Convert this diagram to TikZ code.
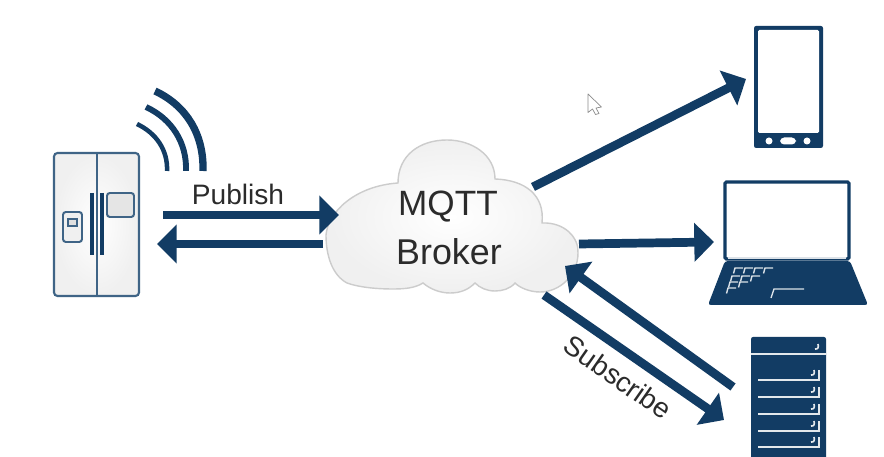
\documentclass[tikz,border=0pt]{standalone}
\usepackage{fontspec}
\setmainfont{Liberation Sans}
\usetikzlibrary{arrows.meta,calc}
\definecolor{navy}{HTML}{123C64}
\definecolor{fridgeline}{HTML}{3F6486}
\definecolor{textgrey}{HTML}{2B2B2B}
\tikzset{
  flow/.style={draw=navy,line width=6.2pt,-{Triangle[length=14pt,width=27pt]}},
  label/.style={text=textgrey,inner sep=0pt},
  keyline/.style={draw=white!85!navy,line width=1pt},
  rackline/.style={draw=white!88!navy,line width=1.2pt},
}
\def\cloudpath{(326,235) .. controls (328,212) and (355,186) .. (398,183)
      .. controls (398,155) and (420,140) .. (447,140)
      .. controls (472,140) and (495,155) .. (495,179)
      .. controls (525,180) and (545,195) .. (542,223)
      .. controls (565,222) and (579,238) .. (578,253)
      .. controls (578,275) and (560,292) .. (540,292)
      .. controls (530,292) and (520,288) .. (515,283)
      .. controls (510,289) and (502,291) .. (495,291)
      .. controls (487,291) and (480,288) .. (475,283)
      .. controls (468,290) and (460,293) .. (450,293)
      .. controls (440,293) and (430,289) .. (423,283)
      .. controls (415,288) and (405,289) .. (393,289)
      .. controls (375,289) and (358,287) .. (347,283)
      .. controls (332,275) and (326,255) .. cycle}
\begin{document}
\begin{tikzpicture}[x=0.025cm,y=-0.025cm]
    \useasboundingbox (0,0) rectangle (884,457);
    \fill[white] (0,0) rectangle (884,457);

    % cloud
    \path[inner color=white,outer color=black!6] \cloudpath;
    \draw[black!20,line width=1pt] \cloudpath;
    \node[label,font=\fontsize{25}{25}\selectfont] (mqtt) at (448,207) {MQTT};
    \node[label,font=\fontsize{25.5}{25.5}\selectfont] (broker) at (449,252) {Broker};

    % fridge
    \draw[draw=fridgeline,line width=1.5pt,rounded corners=2.5pt,inner color=white,outer color=black!6] (54,153) rectangle (139,296);
    \draw[fridgeline,line width=1.4pt] (97,153) -- (97,296);
    \draw[navy,line width=2.2pt] (92,193) -- (92,255);
    \draw[navy,line width=2.2pt] (102,193) -- (102,255);
    \draw[fridgeline,line width=1.4pt,fill=black!10,rounded corners=2pt] (107,193) rectangle (134,217);
    \draw[fridgeline,line width=1.4pt,fill=black!6,rounded corners=2pt] (63,212) rectangle (82,242);
    \draw[fridgeline,line width=1.4pt,fill=black!12] (68,219) rectangle (77,226);

    % wifi
    \draw[navy,line width=5.2pt] (203,171) .. controls (204,135) and (187,106) .. (155,91);
    \draw[navy,line width=4.2pt] (186,171) .. controls (187,143) and (172,119) .. (146,107);
    \draw[navy,line width=3.2pt] (167,171) .. controls (168,150) and (156,133) .. (137,124);

    % phone
    \fill[navy,rounded corners=1.5pt] (754,26) rectangle (823,148);
    \fill[white,rounded corners=1pt] (758,30) rectangle (819,133);
    \fill[white] (769,141) circle[radius=3.5];
    \fill[white] (807,141) circle[radius=3.5];
    \fill[white,rounded corners=3pt] (780,137.5) rectangle (796,144.5);

    % laptop
    \draw[navy,line width=2.2pt,fill=white,rounded corners=1pt] (725,182) rectangle (849,259);
    \fill[navy,rounded corners=2pt] (725,261) -- (850,261) -- (868,305) -- (708,305) -- cycle;
    \draw[white!85!navy,line width=1.2pt] (728,258) -- (846,258);
    \foreach \rowy/\rowx/\keys in {268/735/4,276/732/3,282/730/2,288/728/1}{
      \foreach \k in {1,...,\keys}{
        \draw[keyline] ({\rowx+10*(\k-1)-1.5},\rowy+5.5) -- ({\rowx+10*(\k-1)},\rowy) -- ({\rowx+10*(\k-1)+8},\rowy);
      }
    }
    \draw[keyline] (771,298) -- (774,289) -- (804,289);

    % rack
    \fill[navy,rounded corners=1.5pt] (751,337) rectangle (826,470);
    \draw[rackline] (751,354) -- (826,354);
    \draw[rackline] (815,349) .. controls (818,349.5) and (819,347) .. (818,344);
    \foreach \sy in {380,397,414,431,447}{
      \draw[rackline] (758,\sy) -- (819,\sy) -- (819,\sy-10);
      \draw[rackline] (811,\sy-5) .. controls (814,\sy-4.5) and (815,\sy-7) .. (814,\sy-10);
    }

    % mouse cursor
    \draw[black!45,fill=white,line width=0.5pt,line join=round]
      (588,94) -- (601.5,107) -- (596,108) -- (599,113.5) -- (595.5,114.5) -- (592.5,109) -- (588,112.5) -- cycle;

    % arrows
    \coordinate (pubA) at (163,215);
    \coordinate (pubB) at (339,215);
    \coordinate (ackA) at (323,244);
    \coordinate (ackB) at (157,244);
    \coordinate (phoneA) at (533,187);
    \coordinate (phoneB) at (746,79);
    \coordinate (laptopA) at (579,244);
    \coordinate (laptopB) at (714,242);
    \coordinate (rackA) at (733,387);
    \coordinate (rackB) at (565,266);
    \coordinate (subA) at (544,295);
    \coordinate (subB) at (724,420);
    \draw[flow] (pubA) -- (pubB);
    \draw[flow] (ackA) -- (ackB);
    \draw[flow] (phoneA) -- (phoneB);
    \draw[flow] (laptopA) -- (laptopB);
    \draw[flow] (rackA) -- (rackB);
    \draw[flow] (subA) -- (subB);

    \node[label,font=\fontsize{20}{20}\selectfont] (publish) at (238,194) {Publish};
    \node[label,font=\fontsize{19.8}{19.8}\selectfont,rotate=-35] (subscribe) at (618,377) {Subscribe};
\end{tikzpicture}
\end{document}
